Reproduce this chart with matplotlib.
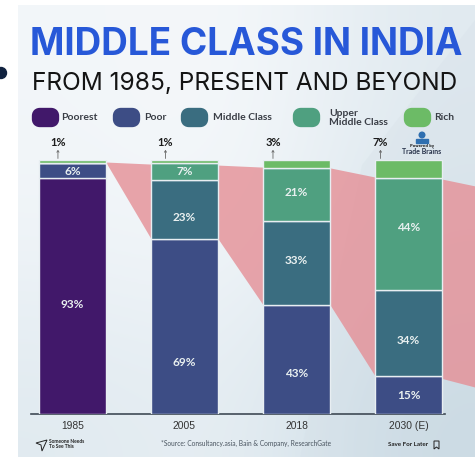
import matplotlib
matplotlib.use("Agg")
import matplotlib.pyplot as plt
import numpy as np
from matplotlib.patches import FancyBboxPatch, Rectangle, Circle, Polygon

years = ["1985", "2005", "2018", "2030 (E)"]
classes = ["Poorest", "Poor", "Middle Class", "Upper\nMiddle Class", "Rich"]
colors = ["#41186a", "#3d4d85", "#3a6d80", "#4fa080", "#6cbb66"]
poorest = [93, 0, 0, 0]
poor = [6, 69, 43, 15]
middle = [0, 23, 33, 34]
upper = [0, 7, 21, 44]
rich = [1, 1, 3, 7]
top_labels = ["1%", "1%", "3%", "7%"]

# pink band: value at the left and right side of each bar
band_top = [99.2, 99.2, 98.4, 98.0, 97.2, 96.9, 93.3, 92.5]
band_low = [99.0, 99.0, 69.0, 69.0, 43.0, 43.0, 15.0, 14.0]
band_end = (89.8, 10.6)

W, H = 475, 457
fig = plt.figure(figsize=(W / 100, H / 100), dpi=100, facecolor="white")

# whole figure in pixel coordinates for the card, texts and legend
bg = fig.add_axes([0, 0, 1, 1])
bg.axis("off")

grad = np.array([[0.08, 0.0, 0.45], [0.12, 0.05, 0.6], [0.45, 0.3, 1.0]])
c0 = np.array([0.965, 0.975, 0.985])
c1 = np.array([0.78, 0.85, 0.89])
img = c0 + (c1 - c0) * grad[..., None]
bg.imshow(img, extent=[18, 475, 457, 5], interpolation="bicubic", aspect="auto", zorder=0)
bg.set_xlim(0, W)
bg.set_ylim(H, 0)
bg.add_patch(Polygon([[475, 20], [362, 165], [300, 457], [475, 457]], color="#d5dfe7", alpha=0.3, lw=0, zorder=0.5))
bg.add_patch(Circle((1, 73), 5.5, color="#10223f", zorder=1))

bg.text(246, 45, "MIDDLE CLASS IN INDIA", color="#2758d8", fontsize=26.6, fontweight="bold",
        family="Inter", ha="center", va="center")
bg.text(245, 84, "FROM 1985, PRESENT AND BEYOND", color="#141414", fontsize=17.6,
        family="Inter", ha="center", va="center")

# legend
swatch_x = [33, 114, 182, 294, 405]
text_x = [61, 144, 213, 329, 434]
for sx, tx, name, col in zip(swatch_x, text_x, classes, colors):
    bg.add_patch(FancyBboxPatch((sx + 3, 112), 19, 11, boxstyle="round,pad=0,rounding_size=4",
                                mutation_aspect=1, fc=col, ec=col, lw=6, joinstyle="round", zorder=2))
    bg.text(tx, 118, name, fontsize=7.5, fontweight="bold", color="#3a3e46", family="Lato",
            ha="left", va="center", linespacing=0.95)

# chart axes: baseline at y=414, 100% at y=160, bars from x=39 to x=442
ax = fig.add_axes([31 / W, (H - 414) / H, 414 / W, 254 / H], facecolor="none")
x = np.arange(len(years))
bw = 67 / 112
ax.set_xlim((31 - 72.5) / 112, (445 - 72.5) / 112)
ax.set_ylim(0, 100)

# the labels are hand placed in the original, shift from segment centre in px
label_shift = [[-9, 0, 0, 0], [-1, -36, -14, -1], [0, -7.5, 2, -8], [0, -0.5, 2, 6], [0, 0, 0, 0]]

stack = [poorest, poor, middle, upper, rich]
bottom = np.zeros(4)
for vals, col, shifts in zip(stack, colors, label_shift):
    ax.bar(x, vals, bw, bottom=bottom, color=col, edgecolor="#e8eef2", linewidth=1, zorder=3)
    for i, v in enumerate(vals):
        if v >= 6 and col != colors[4]:
            ax.annotate(f"{v}%", (x[i], bottom[i] + v / 2), xytext=(0, shifts[i] * 0.72),
                        textcoords="offset points", color="#e9f0f0", fontsize=8.5, fontweight="bold",
                        family="Lato", ha="center", va="center", zorder=4)
    bottom += np.array(vals)

edges = []
for i in x:
    edges += [i - bw / 2, i + bw / 2]
right_side = (475 - 72.5) / 112
ax.fill_between(edges[1:] + [right_side], band_low[1:] + [band_end[1]], band_top[1:] + [band_end[0]],
                color="#e58f96", alpha=0.8, lw=0, zorder=1, clip_on=False)

label_x = [-0.13, -0.17, -0.21, -0.25]
for i, lab in enumerate(top_labels):
    ax.annotate("", xy=(x[i] + label_x[i], 104), xytext=(x[i] + label_x[i], 100.6), annotation_clip=False,
                arrowprops=dict(arrowstyle="->,head_width=0.08,head_length=0.12", color="#666666", lw=0.6,
                                shrinkA=0, shrinkB=0))
    ax.text(x[i] + label_x[i], 106.7, lab, color="#1c1c1c", fontsize=8, fontweight="bold", family="Lato",
            ha="center", va="center", clip_on=False)

ax.set_xticks(x, years)
ax.tick_params(axis="x", length=0, pad=5, labelsize=7.4, labelcolor="#333333")
for t in ax.get_xticklabels():
    t.set_family("Liberation Sans")
ax.set_yticks([])
for s in ["top", "left", "right"]:
    ax.spines[s].set_visible(False)
ax.spines["bottom"].set_color("#3f4a55")
ax.spines["bottom"].set_linewidth(1.2)

# logo and footer
bg.add_patch(Circle((422, 135), 2.8, color="#2f6fb0", zorder=2))
bg.add_patch(Rectangle((416, 138.5), 12, 4, color="#2f6fb0", zorder=2))
bg.text(422, 145.5, "Powered by", fontsize=2.6, ha="center", va="center", color="#222222", fontweight="bold")
bg.text(422, 151, "Trade Brains", fontsize=5, ha="center", va="center", color="#27324a",
        fontweight="bold", family="Lato")
bg.add_patch(Polygon([[36, 443], [47, 440], [42, 451], [41, 445]], fc="none", ec="#222222", lw=0.7))
bg.text(49, 444, "Someone Needs\nTo See This", fontsize=3.5, fontweight="bold", color="#222222",
        ha="left", va="center", family="Lato")
bg.text(246, 443.5, "*Source: Consultancy.asia, Bain & Company, ResearchGate", fontsize=4.8, color="#4a5560",
        ha="center", va="center", family="Lato")
bg.text(408, 444.5, "Save For Later", fontsize=4.5, fontweight="bold", color="#222222",
        ha="center", va="center", family="Lato")
bg.add_patch(Polygon([[434, 441], [439, 441], [439, 449], [436.5, 447], [434, 449]], fc="none", ec="#222222", lw=0.7))

fig.savefig("out.png", dpi=100)
